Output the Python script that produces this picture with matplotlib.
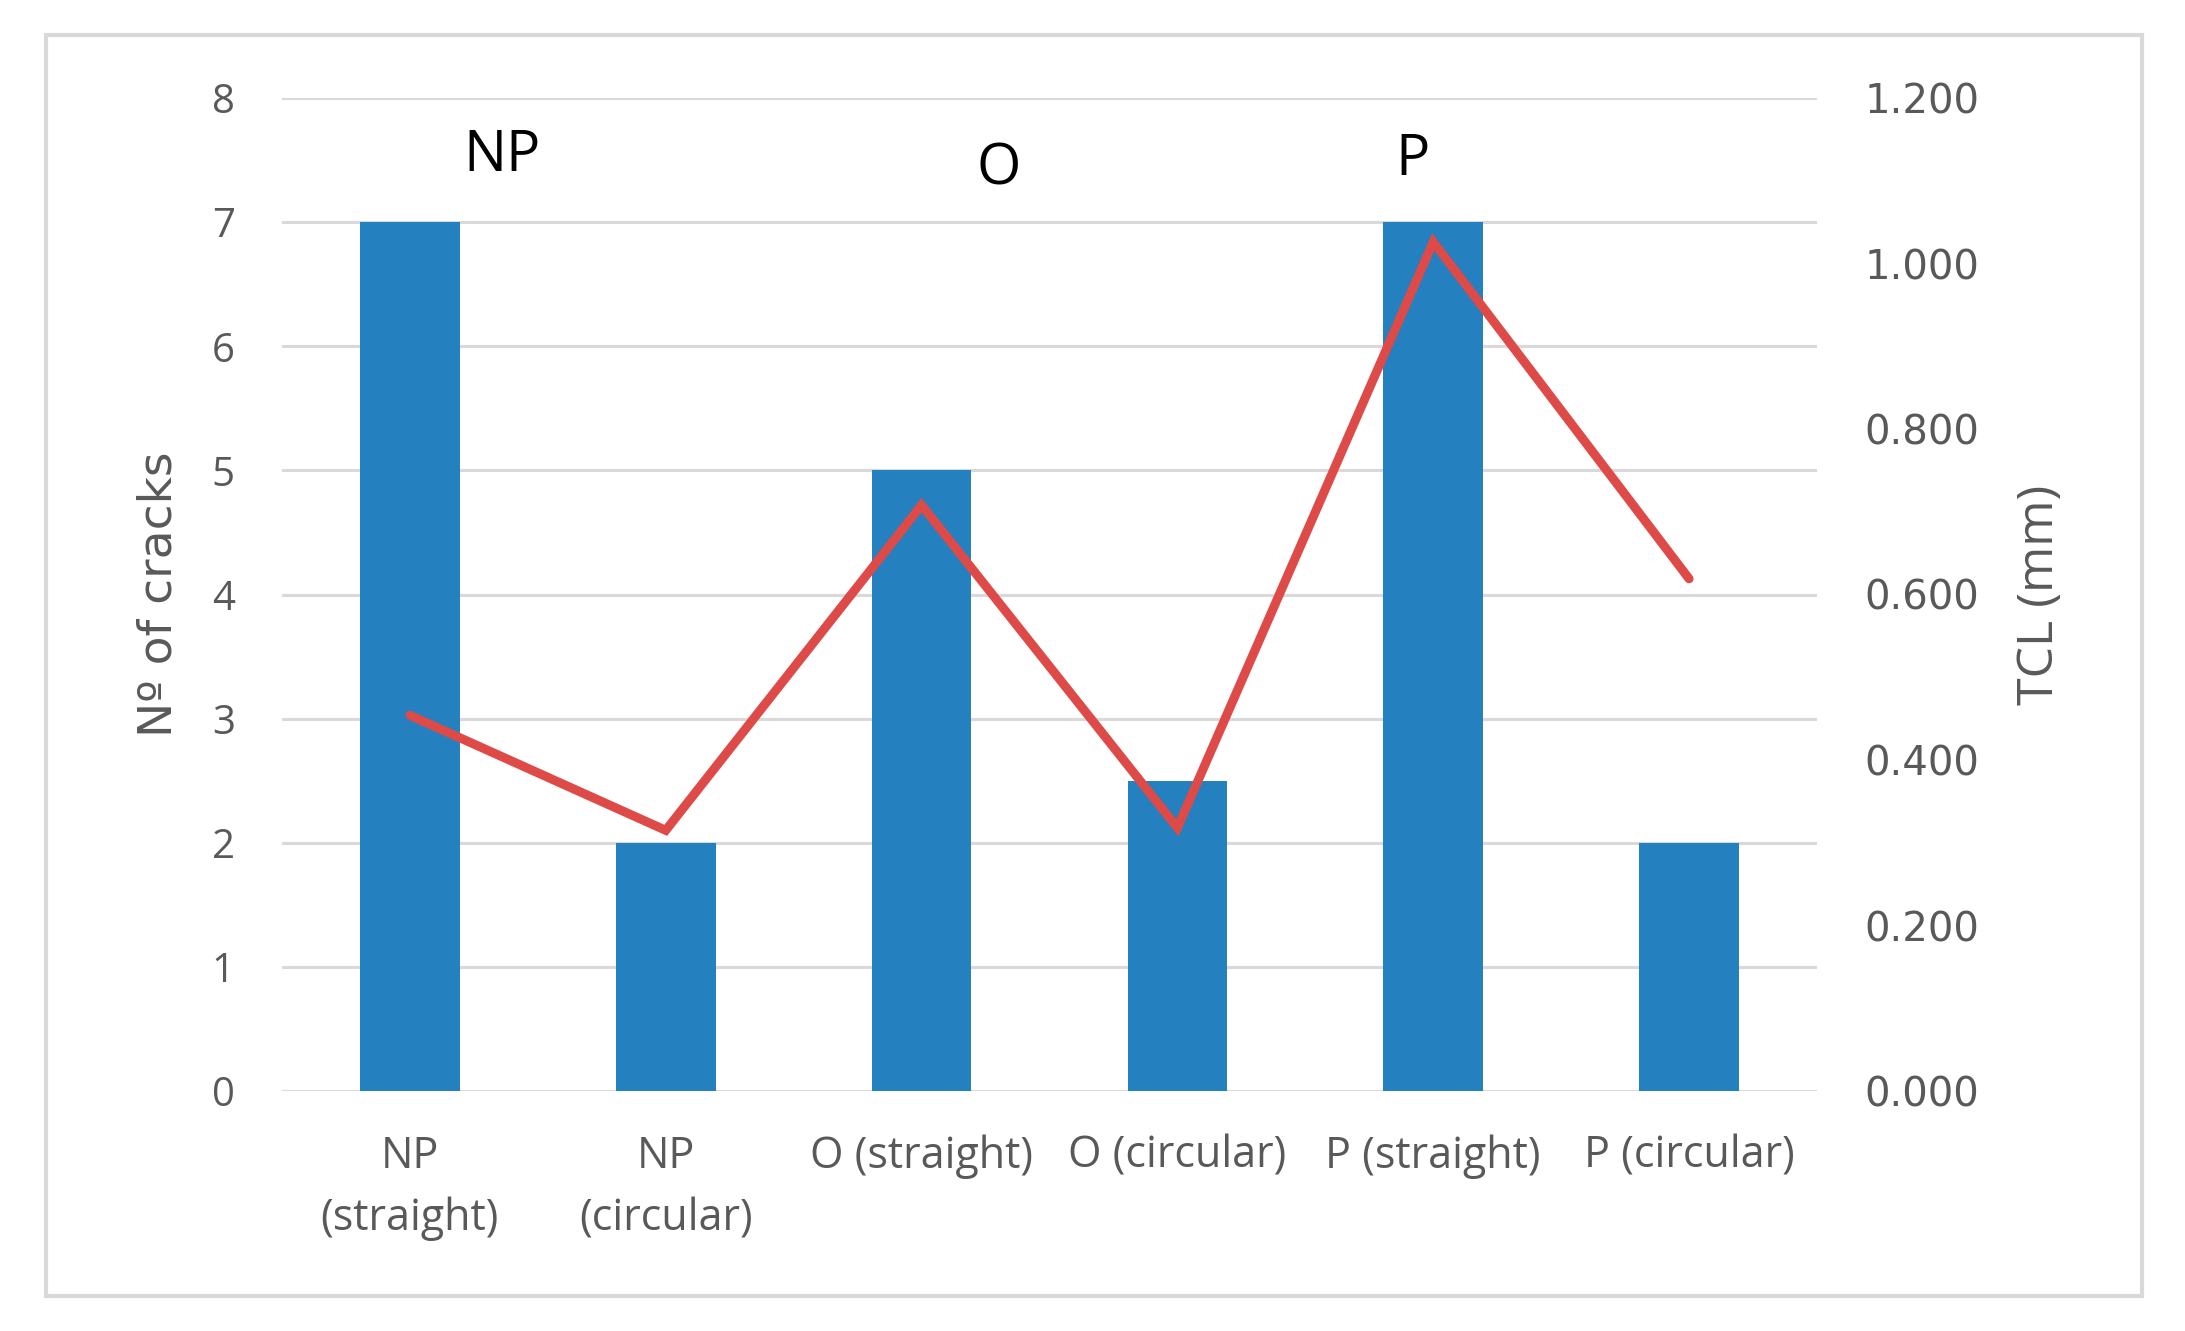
import matplotlib
matplotlib.use("Agg")
import matplotlib.pyplot as plt
from matplotlib.patches import Rectangle

categories = ["NP\n(straight)", "NP\n(circular)", "O (straight)", "O (circular)",
              "P (straight)", "P (circular)"]
cracks = [7, 2, 5, 2.5, 7, 2]
tcl = [0.454, 0.315, 0.708, 0.318, 1.026, 0.619]
groups = ["NP", "O", "P"]
group_x = [0.36, 2.30, 3.92]
group_y = [7.53, 7.42, 7.50]

gray = "#595959"
narrow = ["Open Sans", "DejaVu Sans"]

fig = plt.figure(figsize=(21.85, 13.31), dpi=100)
fig.patches.append(Rectangle((46 / 2185, 1 - 1296 / 1331), (2142 - 46) / 2185,
                             (1296 - 35) / 1331, transform=fig.transFigure,
                             fill=False, edgecolor="#d9d9d9", linewidth=3))

ax = fig.add_axes([282 / 2185, 1 - 1091 / 1331, (1817 - 282) / 2185, (1091 - 98) / 1331])
x = list(range(len(categories)))
ax.bar(x, cracks, width=0.39, color="#2580bf", zorder=2)
ax.set_xlim(-0.5, 5.5)
ax.set_ylim(0, 8)
ax.set_yticks(range(0, 9))
ax.grid(axis="y", color="#d9d9d9", linewidth=2.2, zorder=0)
for s in ax.spines.values():
    s.set_visible(False)
ax.tick_params(axis="both", length=0)
ax.tick_params(axis="y", pad=34, labelsize=29, labelcolor=gray)
ax.tick_params(axis="x", pad=31)
ax.set_xticks(x)
ax.set_xticklabels(categories, fontsize=31, color=gray, family=narrow, linespacing=1.55)
for lab in ax.get_yticklabels():
    lab.set_family(narrow)
ax.set_ylabel("Nº of cracks", fontsize=34, color=gray, labelpad=22)

for g, gx, gy in zip(groups, group_x, group_y):
    ax.text(gx, gy, g, fontsize=41, color="black", family=narrow,
            ha="center", va="center", zorder=4)

ax2 = ax.twinx()
ax2.plot(x, tcl, color="#dd4a47", linewidth=6.5, solid_capstyle="round",
         solid_joinstyle="miter", zorder=3)
ax2.set_ylim(0, 1.2)
ax2.set_yticks([0, 0.2, 0.4, 0.6, 0.8, 1.0, 1.2])
ax2.set_yticklabels(["%.3f" % v for v in [0, 0.2, 0.4, 0.6, 0.8, 1.0, 1.2]])
for s in ax2.spines.values():
    s.set_visible(False)
ax2.tick_params(axis="y", length=0, pad=34, labelsize=29, labelcolor=gray)
ax2.set_ylabel("TCL (mm)", fontsize=36, color=gray, family=narrow, labelpad=26)

fig.savefig("out.png", dpi=100, facecolor="white")
